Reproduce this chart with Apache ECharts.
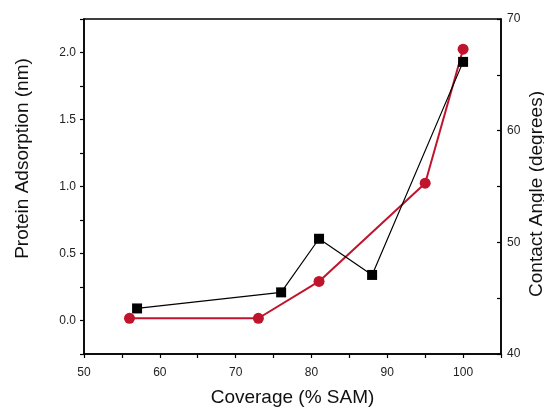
<!DOCTYPE html>
<html>
<head>
<meta charset="utf-8">
<script src="https://cdn.jsdelivr.net/npm/echarts@6/dist/echarts.min.js"></script>
<style>html,body{margin:0;padding:0;background:#fff}#c{width:544px;height:408px}</style>
</head>
<body>
<div id="c"></div>
<script>
var adsorptionCoverage = [57, 76, 81, 88, 100];
var adsorptionValues = [0.09, 0.21, 0.61, 0.34, 1.93];
var angleCoverage = [56, 73, 81, 95, 100];
var angleValues = [43.2, 43.2, 46.5, 55.3, 67.3];
var xTickLabels = [50, 60, 70, 80, 90, 100];
var leftTickLabels = [0.0, 0.5, 1.0, 1.5, 2.0];
var rightTickLabels = [40, 50, 60, 70];

var FONT = 'Liberation Sans, Arial, sans-serif';
var chart = echarts.init(document.getElementById('c'));
function pairs(xs, ys) { return xs.map(function (x, i) { return [x, ys[i]]; }); }
var lineStyleAxis = { color: '#000', width: 1.5 };
chart.setOption({
  animation: false,
  backgroundColor: '#fff',
  grid: { left: 84, right: 43, top: 19, bottom: 54, outerBoundsMode: 'none', containLabel: false,
    show: true, borderColor: '#000', borderWidth: 1.5, backgroundColor: 'transparent' },
  xAxis: {
    type: 'value', min: 50, max: 105, interval: 5,
    name: 'Coverage (% SAM)', nameLocation: 'middle', nameGap: 34,
    nameTextStyle: { fontFamily: FONT, fontSize: 19, color: '#111' },
    axisLine: { show: true, onZero: false, lineStyle: lineStyleAxis },
    axisTick: { show: true, inside: false, length: 4, lineStyle: { color: '#000', width: 1.2 } },
    axisLabel: { fontFamily: FONT, fontSize: 12, color: '#222', margin: 13,
      formatter: function (v) { return xTickLabels.indexOf(v) >= 0 ? String(v) : ''; } },
    splitLine: { show: false }
  },
  yAxis: [{
    type: 'value', min: -0.25, max: 2.25, interval: 0.25, position: 'left',
    name: 'Protein Adsorption (nm)', nameLocation: 'middle', nameGap: 52, nameRotate: 90,
    nameTextStyle: { fontFamily: FONT, fontSize: 19, color: '#111', padding: [0, 0, 0, 56] },
    axisLine: { show: true, onZero: false, lineStyle: lineStyleAxis },
    axisTick: { show: true, inside: false, length: 4, lineStyle: { color: '#000', width: 1.2 } },
    axisLabel: { fontFamily: FONT, fontSize: 12, color: '#222', margin: 8,
      formatter: function (v) {
        for (var i = 0; i < leftTickLabels.length; i++) { if (Math.abs(leftTickLabels[i] - v) < 1e-9) return v.toFixed(1); }
        return '';
      } },
    splitLine: { show: false }
  }, {
    type: 'value', min: 40, max: 70, interval: 5, position: 'right',
    name: 'Contact Angle (degrees)', nameLocation: 'middle', nameGap: 26, nameRotate: 90,
    nameMoveOverlap: false,
    nameTextStyle: { fontFamily: FONT, fontSize: 19, color: '#111', padding: [0, 15, 0, 0] },
    axisLine: { show: true, onZero: false, lineStyle: lineStyleAxis },
    axisTick: { show: true, inside: true, length: 4, lineStyle: { color: '#000', width: 1.2 } },
    axisLabel: { fontFamily: FONT, fontSize: 12, color: '#222', margin: 6,
      formatter: function (v) { return rightTickLabels.indexOf(v) >= 0 ? String(v) : ''; } },
    splitLine: { show: false }
  }],
  series: [{
    name: 'Contact Angle', type: 'line', yAxisIndex: 1,
    data: pairs(angleCoverage, angleValues),
    symbol: 'circle', symbolSize: 11,
    lineStyle: { color: '#c0142c', width: 2 },
    itemStyle: { color: '#c0142c' }
  }, {
    name: 'Protein Adsorption', type: 'line', yAxisIndex: 0,
    data: pairs(adsorptionCoverage, adsorptionValues),
    symbol: 'rect', symbolSize: 10,
    lineStyle: { color: '#000', width: 1.2 },
    itemStyle: { color: '#000' }
  }]
});
</script>
</body>
</html>
